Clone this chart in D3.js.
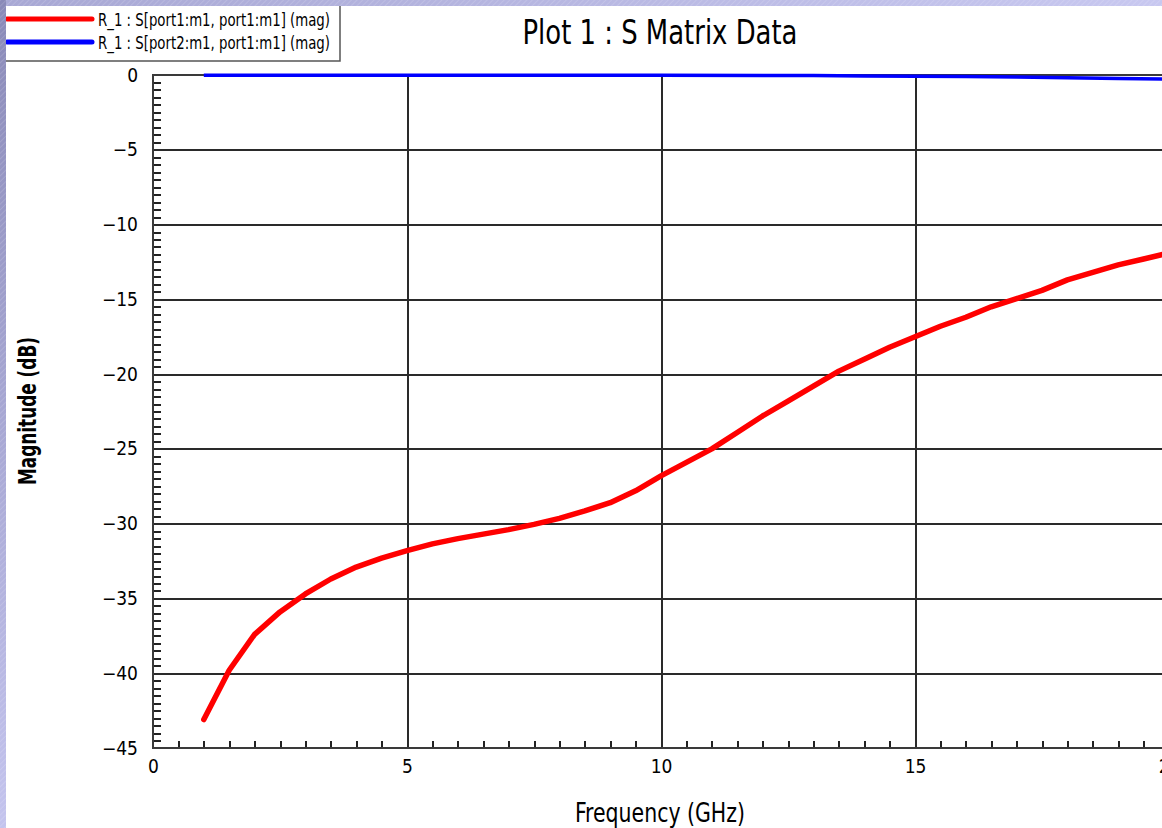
<!DOCTYPE html>
<html>
<head>
<meta charset="utf-8">
<script src="https://cdn.jsdelivr.net/npm/d3@7"></script>
<style>
  html, body { margin: 0; padding: 0; background: #fff; overflow: hidden; }
  text { font-family: "Liberation Sans Narrow", "DejaVu Sans Condensed", "Arial Narrow", sans-serif; fill: #000; }
</style>
</head>
<body>
<svg id="chart" width="1162" height="828"></svg>
<script>
// S11 (return loss) sampled every 0.5 GHz
const freqGHz = [1, 1.5, 2, 2.5, 3, 3.5, 4, 4.5, 5, 5.5, 6, 6.5, 7, 7.5, 8, 8.5, 9, 9.5, 10,
                 10.5, 11, 11.5, 12, 12.5, 13, 13.5, 14, 14.5, 15, 15.5, 16, 16.5, 17, 17.5,
                 18, 18.5, 19, 19.5, 20];
const s11dB = [-43.1, -39.8, -37.4, -35.9, -34.7, -33.7, -32.9, -32.3, -31.8, -31.35, -31.0,
               -30.7, -30.4, -30.05, -29.65, -29.15, -28.6, -27.8, -26.8, -25.9, -25.0, -23.9,
               -22.8, -21.8, -20.8, -19.8, -19.0, -18.2, -17.5, -16.8, -16.2, -15.5, -14.95,
               -14.4, -13.7, -13.2, -12.7, -12.3, -11.9];

// S21 (insertion loss)
const s21Freq = [1, 4, 7, 10, 13, 14, 15, 16, 17, 18, 19, 20];
const s21dB = [-0.01, -0.01, -0.02, -0.02, -0.03, -0.06, -0.08, -0.1, -0.14, -0.18, -0.24, -0.28];

const xTicks = [0, 5, 10, 15, 20];
const yTicks = [0, -5, -10, -15, -20, -25, -30, -35, -40, -45];

const seriesNames = ["R_1 : S[port1:m1, port1:m1] (mag)", "R_1 : S[port2:m1, port1:m1] (mag)"];
const seriesColors = ["#ff0000", "#0000ff"];

const titleText = "Plot 1 : S Matrix Data";
const xLabel = "Frequency (GHz)";
const yLabel = "Magnitude (dB)";

const W = 1162, H = 828;
const svg = d3.select("#chart");

// ---- slide background: hatched lavender strips on the top and left ----
const defs = svg.append("defs");
const leftGrad = defs.append("linearGradient").attr("id", "leftGrad")
  .attr("x1", 0).attr("y1", 0).attr("x2", 0).attr("y2", 1);
leftGrad.append("stop").attr("offset", "0%").attr("stop-color", "#8a8ab8");
leftGrad.append("stop").attr("offset", "100%").attr("stop-color", "#c4c4ee");
const topGrad = defs.append("linearGradient").attr("id", "topGrad")
  .attr("x1", 0).attr("y1", 0).attr("x2", 1).attr("y2", 0);
topGrad.append("stop").attr("offset", "0%").attr("stop-color", "#a8a8d4");
topGrad.append("stop").attr("offset", "100%").attr("stop-color", "#c8c8f0");
const hatch = defs.append("pattern").attr("id", "hatch")
  .attr("width", 4).attr("height", 4).attr("patternUnits", "userSpaceOnUse")
  .attr("patternTransform", "rotate(45)");
hatch.append("line").attr("x1", 0).attr("y1", 0).attr("x2", 0).attr("y2", 4)
  .attr("stroke", "#ffffff").attr("stroke-opacity", 0.28).attr("stroke-width", 1);

svg.append("rect").attr("x", 6).attr("y", 6).attr("width", W - 6).attr("height", H - 6).attr("fill", "#ffffff");

// ---- scales ----
const x = d3.scaleLinear().domain([0, 20]).range([153, 1169]);
const y = d3.scaleLinear().domain([-45, 0]).range([748, 75]);
const plotW = x(20) - x(0), plotH = y(-45) - y(0);

const minorX = d3.range(0, 20.001, 0.5).filter(v => v % 5 !== 0);
const minorY = d3.range(-45, 0.001, 0.5).filter(v => v % 5 !== 0);

const fmt = v => (v < 0 ? "\u2212" + Math.abs(v) : String(v));

// gridlines at major ticks
const gridX = svg.append("g").attr("transform", `translate(0,${y(-45)})`)
  .call(d3.axisBottom(x).tickValues(xTicks.slice(1, -1)).tickSize(-plotH).tickFormat(""));
const gridY = svg.append("g").attr("transform", `translate(${x(0)},0)`)
  .call(d3.axisLeft(y).tickValues(yTicks.slice(1, -1)).tickSize(-plotW).tickFormat(""));
[gridX, gridY].forEach(g => {
  g.select(".domain").remove();
  g.selectAll("line").attr("stroke", "#2a2a2a").attr("stroke-width", 2)
    .attr("shape-rendering", "crispEdges");
});

// minor ticks pointing into the plot
const mx = svg.append("g").attr("transform", `translate(0,${y(-45)})`)
  .call(d3.axisBottom(x).tickValues(minorX).tickSize(-7).tickFormat(""));
const my = svg.append("g").attr("transform", `translate(${x(0)},0)`)
  .call(d3.axisLeft(y).tickValues(minorY).tickSize(-8).tickFormat(""));
[mx, my].forEach(g => {
  g.select(".domain").remove();
  g.selectAll("line").attr("stroke", "#222").attr("stroke-width", 2)
    .attr("shape-rendering", "crispEdges");
});

// plot frame
svg.append("rect").attr("x", x(0)).attr("y", y(0)).attr("width", plotW).attr("height", plotH)
  .attr("fill", "none").attr("stroke", "#3a3a3a").attr("stroke-width", 2)
  .attr("shape-rendering", "crispEdges");

// tick labels
const lx = svg.append("g").attr("transform", `translate(0,${y(-45)})`)
  .call(d3.axisBottom(x).tickValues(xTicks).tickSize(0).tickPadding(12).tickFormat(fmt));
lx.select(".domain").remove();
lx.selectAll("text").style("font-size", "19px");

const ly = svg.append("g").attr("transform", `translate(${x(0)},0)`)
  .call(d3.axisLeft(y).tickValues(yTicks).tickSize(0).tickPadding(15).tickFormat(fmt));
ly.select(".domain").remove();
ly.selectAll("text").style("font-size", "19px");

// ---- series ----
const line = d3.line().x(d => x(d[0])).y(d => y(d[1]));
const s21 = d3.zip(s21Freq, s21dB);
const s11 = d3.zip(freqGHz, s11dB);

svg.append("path").datum(s21).attr("d", line)
  .attr("fill", "none").attr("stroke", seriesColors[1]).attr("stroke-width", 3.5);
svg.append("path").datum(s11).attr("d", line)
  .attr("fill", "none").attr("stroke", seriesColors[0]).attr("stroke-width", 5.5)
  .attr("stroke-linejoin", "round").attr("stroke-linecap", "round");

// ---- title and axis labels ----
svg.append("text").attr("x", 660).attr("y", 44).attr("text-anchor", "middle")
  .attr("textLength", 275).attr("lengthAdjust", "spacingAndGlyphs")
  .style("font-size", "34px").text(titleText);

svg.append("text").attr("x", 660).attr("y", 822).attr("text-anchor", "middle")
  .attr("textLength", 170).attr("lengthAdjust", "spacingAndGlyphs")
  .style("font-size", "26px").text(xLabel);

svg.append("text").attr("transform", "translate(36,411) rotate(-90)").attr("text-anchor", "middle")
  .attr("textLength", 148).attr("lengthAdjust", "spacingAndGlyphs")
  .style("font-size", "25px").style("font-weight", "bold").text(yLabel);

// ---- legend ----
const legend = svg.append("g");
legend.append("rect").attr("x", 5).attr("y", 5).attr("width", 335).attr("height", 56)
  .attr("fill", "#ffffff").attr("stroke", "#555").attr("stroke-width", 1.5);
seriesNames.forEach((name, i) => {
  const ly0 = 19 + i * 23;
  legend.append("line").attr("x1", 7).attr("x2", 92).attr("y1", ly0).attr("y2", ly0)
    .attr("stroke", seriesColors[i]).attr("stroke-width", 5).attr("stroke-linecap", "round");
  legend.append("text").attr("x", 98).attr("y", ly0 + 7)
    .attr("textLength", 232).attr("lengthAdjust", "spacingAndGlyphs")
    .style("font-size", "17px").text(name);
});

// hatched strips drawn last so they sit over the legend's top/left edge
svg.append("rect").attr("x", 0).attr("y", 0).attr("width", W).attr("height", 6).attr("fill", "url(#topGrad)");
svg.append("rect").attr("x", 0).attr("y", 0).attr("width", W).attr("height", 6).attr("fill", "url(#hatch)");
svg.append("rect").attr("x", 0).attr("y", 0).attr("width", 6).attr("height", H).attr("fill", "url(#leftGrad)");
svg.append("rect").attr("x", 0).attr("y", 0).attr("width", 6).attr("height", H).attr("fill", "url(#hatch)");
</script>
</body>
</html>
